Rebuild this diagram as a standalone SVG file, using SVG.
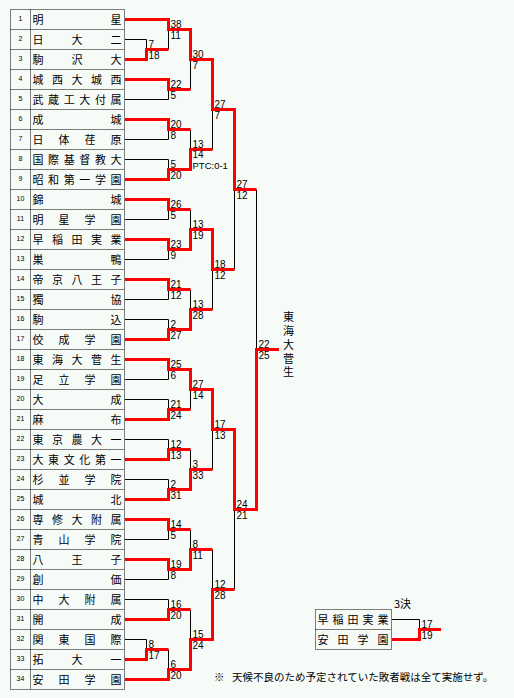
<svg xmlns="http://www.w3.org/2000/svg" width="514" height="698" viewBox="0 0 514 698">
<style>
.bg{fill:#f7fbf7}
.d{fill:none;stroke:#000;stroke-width:1;stroke-dasharray:1 1}
.b{fill:none;stroke:#000;stroke-width:1}
.r{fill:none;stroke:#f00;stroke-width:3;stroke-linejoin:miter;stroke-linecap:butt}
.n{font-family:"Noto Sans CJK JP","Noto Sans CJK SC",sans-serif;font-size:11px;fill:#000}
.f{font-family:"Noto Sans CJK JP","Noto Sans CJK SC",sans-serif;font-size:10.5px;fill:#000}
.k{font-family:"Liberation Sans",Arial,sans-serif;font-size:7px;fill:#000;text-anchor:middle}
.s{font-family:"Liberation Sans",Arial,sans-serif;font-size:10px;fill:#000}
.p{font-size:9.5px}
</style>
<rect class="bg" x="0" y="0" width="514" height="698"/>
<g id="table">
<rect class="d" x="10.5" y="9.5" width="114" height="680"/>
<path class="d" d="M30.5 9.5V689.5"/>
<path class="d" d="M10.5 29.5H124.5M10.5 49.5H124.5M10.5 69.5H124.5M10.5 89.5H124.5M10.5 109.5H124.5M10.5 129.5H124.5M10.5 149.5H124.5M10.5 169.5H124.5M10.5 189.5H124.5M10.5 209.5H124.5M10.5 229.5H124.5M10.5 249.5H124.5M10.5 269.5H124.5M10.5 289.5H124.5M10.5 309.5H124.5M10.5 329.5H124.5M10.5 349.5H124.5M10.5 369.5H124.5M10.5 389.5H124.5M10.5 409.5H124.5M10.5 429.5H124.5M10.5 449.5H124.5M10.5 469.5H124.5M10.5 489.5H124.5M10.5 509.5H124.5M10.5 529.5H124.5M10.5 549.5H124.5M10.5 569.5H124.5M10.5 589.5H124.5M10.5 609.5H124.5M10.5 629.5H124.5M10.5 649.5H124.5M10.5 669.5H124.5"/>
</g>
<g id="team1"><text class="k" x="20.5" y="20.5">1</text><text class="n" x="32.5 110.5" y="24">明星</text></g>
<g id="team2"><text class="k" x="20.5" y="40.5">2</text><text class="n" x="32.5 71.5 110.5" y="44">日大二</text></g>
<g id="team3"><text class="k" x="20.5" y="60.5">3</text><text class="n" x="32.5 71.5 110.5" y="64">駒沢大</text></g>
<g id="team4"><text class="k" x="20.5" y="80.5">4</text><text class="n" x="32.5 52 71.5 91 110.5" y="84">城西大城西</text></g>
<g id="team5"><text class="k" x="20.5" y="100.5">5</text><text class="n" x="32.5 48.1 63.7 79.3 94.9 110.5" y="104">武蔵工大付属</text></g>
<g id="team6"><text class="k" x="20.5" y="120.5">6</text><text class="n" x="32.5 110.5" y="124">成城</text></g>
<g id="team7"><text class="k" x="20.5" y="140.5">7</text><text class="n" x="32.5 58.5 84.5 110.5" y="144">日体荏原</text></g>
<g id="team8"><text class="k" x="20.5" y="160.5">8</text><text class="n" x="32.5 48.1 63.7 79.3 94.9 110.5" y="164">国際基督教大</text></g>
<g id="team9"><text class="k" x="20.5" y="180.5">9</text><text class="n" x="32.5 48.1 63.7 79.3 94.9 110.5" y="184">昭和第一学園</text></g>
<g id="team10"><text class="k" x="20.5" y="200.5">10</text><text class="n" x="32.5 110.5" y="204">錦城</text></g>
<g id="team11"><text class="k" x="20.5" y="220.5">11</text><text class="n" x="32.5 58.5 84.5 110.5" y="224">明星学園</text></g>
<g id="team12"><text class="k" x="20.5" y="240.5">12</text><text class="n" x="32.5 52 71.5 91 110.5" y="244">早稲田実業</text></g>
<g id="team13"><text class="k" x="20.5" y="260.5">13</text><text class="n" x="32.5 110.5" y="264">巣鴨</text></g>
<g id="team14"><text class="k" x="20.5" y="280.5">14</text><text class="n" x="32.5 52 71.5 91 110.5" y="284">帝京八王子</text></g>
<g id="team15"><text class="k" x="20.5" y="300.5">15</text><text class="n" x="32.5 110.5" y="304">獨協</text></g>
<g id="team16"><text class="k" x="20.5" y="320.5">16</text><text class="n" x="32.5 110.5" y="324">駒込</text></g>
<g id="team17"><text class="k" x="20.5" y="340.5">17</text><text class="n" x="32.5 58.5 84.5 110.5" y="344">佼成学園</text></g>
<g id="team18"><text class="k" x="20.5" y="360.5">18</text><text class="n" x="32.5 52 71.5 91 110.5" y="364">東海大菅生</text></g>
<g id="team19"><text class="k" x="20.5" y="380.5">19</text><text class="n" x="32.5 58.5 84.5 110.5" y="384">足立学園</text></g>
<g id="team20"><text class="k" x="20.5" y="400.5">20</text><text class="n" x="32.5 110.5" y="404">大成</text></g>
<g id="team21"><text class="k" x="20.5" y="420.5">21</text><text class="n" x="32.5 110.5" y="424">麻布</text></g>
<g id="team22"><text class="k" x="20.5" y="440.5">22</text><text class="n" x="32.5 52 71.5 91 110.5" y="444">東京農大一</text></g>
<g id="team23"><text class="k" x="20.5" y="460.5">23</text><text class="n" x="32.5 48.1 63.7 79.3 94.9 110.5" y="464">大東文化第一</text></g>
<g id="team24"><text class="k" x="20.5" y="480.5">24</text><text class="n" x="32.5 58.5 84.5 110.5" y="484">杉並学院</text></g>
<g id="team25"><text class="k" x="20.5" y="500.5">25</text><text class="n" x="32.5 110.5" y="504">城北</text></g>
<g id="team26"><text class="k" x="20.5" y="520.5">26</text><text class="n" x="32.5 52 71.5 91 110.5" y="524">専修大附属</text></g>
<g id="team27"><text class="k" x="20.5" y="540.5">27</text><text class="n" x="32.5 58.5 84.5 110.5" y="544">青山学院</text></g>
<g id="team28"><text class="k" x="20.5" y="560.5">28</text><text class="n" x="32.5 71.5 110.5" y="564">八王子</text></g>
<g id="team29"><text class="k" x="20.5" y="580.5">29</text><text class="n" x="32.5 110.5" y="584">創価</text></g>
<g id="team30"><text class="k" x="20.5" y="600.5">30</text><text class="n" x="32.5 58.5 84.5 110.5" y="604">中大附属</text></g>
<g id="team31"><text class="k" x="20.5" y="620.5">31</text><text class="n" x="32.5 110.5" y="624">開成</text></g>
<g id="team32"><text class="k" x="20.5" y="640.5">32</text><text class="n" x="32.5 58.5 84.5 110.5" y="644">関東国際</text></g>
<g id="team33"><text class="k" x="20.5" y="660.5">33</text><text class="n" x="32.5 71.5 110.5" y="664">拓大一</text></g>
<g id="team34"><text class="k" x="20.5" y="680.5">34</text><text class="n" x="32.5 58.5 84.5 110.5" y="684">安田学園</text></g>
<g id="third-place">
<rect class="d" x="315.5" y="609.5" width="76" height="40"/>
<path class="d" d="M315.5 629.5H391.5"/>
<text class="n" x="317.5 332.5 347.5 362.5 377.5" y="623.5">早稲田実業</text>
<text class="n" x="317.5 337.5 357.5 377.5" y="643.5">安田学園</text>
<text class="n" x="394" y="608">3決</text>
</g>
<g id="champion">
<text class="n" text-anchor="middle" x="288.5 288.5 288.5 288.5 288.5" y="321 335 349 363 376">東海大菅生</text>
</g>
<g id="connectors">
<path class="b" d="M125 39.5H146.5V49.5M125 99.5H168.5V89.5M125 139.5H168.5V129.5M125 159.5H168.5V169.5M125 219.5H168.5V209.5M125 259.5H168.5V249.5M125 299.5H168.5V289.5M125 319.5H168.5V329.5M125 379.5H168.5V369.5M125 399.5H168.5V409.5M125 439.5H168.5V449.5M125 479.5H168.5V489.5M125 539.5H168.5V529.5M125 579.5H168.5V569.5M125 599.5H168.5V609.5M125 639.5H146.5V649.5"/>
<path class="b" d="M168.5 29.5V49.5M190.5 59.5V89.5M190.5 129.5V149.5M212.5 109.5V149.5M190.5 209.5V229.5M190.5 289.5V309.5M212.5 269.5V309.5M234.5 189.5V269.5M256.5 189.5V349.5M190.5 389.5V409.5M190.5 449.5V469.5M212.5 429.5V469.5M190.5 529.5V549.5M168.5 649.5V669.5M190.5 609.5V639.5M212.5 549.5V589.5M234.5 509.5V589.5M392 619.5H419.5V629.5"/>
<path class="r" d="M125 19.5H168.5V29.5H190.5V59.5H212.5V109.5H234.5V189.5H256.5"/>
<path class="r" d="M125 59.5H146.5V49.5H168.5"/>
<path class="r" d="M125 79.5H168.5V89.5H190.5"/>
<path class="r" d="M125 119.5H168.5V129.5H190.5"/>
<path class="r" d="M125 179.5H168.5V169.5H190.5V149.5H212.5"/>
<path class="r" d="M125 199.5H168.5V209.5H190.5"/>
<path class="r" d="M125 239.5H168.5V249.5H190.5V229.5H212.5V269.5H234.5"/>
<path class="r" d="M125 279.5H168.5V289.5H190.5"/>
<path class="r" d="M125 339.5H168.5V329.5H190.5V309.5H212.5"/>
<path class="r" d="M125 359.5H168.5V369.5H190.5V389.5H212.5V429.5H234.5V509.5H256.5V349.5H279"/>
<path class="r" d="M125 419.5H168.5V409.5H190.5"/>
<path class="r" d="M125 459.5H168.5V449.5H190.5"/>
<path class="r" d="M125 499.5H168.5V489.5H190.5V469.5H212.5"/>
<path class="r" d="M125 519.5H168.5V529.5H190.5"/>
<path class="r" d="M125 559.5H168.5V569.5H190.5V549.5H212.5"/>
<path class="r" d="M125 619.5H168.5V609.5H190.5"/>
<path class="r" d="M125 659.5H146.5V649.5H168.5"/>
<path class="r" d="M125 679.5H168.5V669.5H190.5V639.5H212.5V589.5H234.5"/>
<path class="r" d="M392 639.5H419.5V629.5H441"/>
</g>
<g id="scores" class="s">
<text x="148.5" y="48">7</text><text x="148.5" y="58.5">18</text>
<text x="170.5" y="28">38</text><text x="170.5" y="38.5">11</text>
<text x="170.5" y="88">22</text><text x="170.5" y="98.5">5</text>
<text x="192.5" y="58">30</text><text x="192.5" y="68.5">7</text>
<text x="170.5" y="128">20</text><text x="170.5" y="138.5">8</text>
<text x="170.5" y="168">5</text><text x="170.5" y="178.5">20</text>
<text x="192.5" y="148">13</text><text x="192.5" y="158">14</text><text class="p" x="192.5" y="168.5">PTC:0-1</text>
<text x="214.5" y="108">27</text><text x="214.5" y="118.5">7</text>
<text x="170.5" y="208">26</text><text x="170.5" y="218.5">5</text>
<text x="170.5" y="248">23</text><text x="170.5" y="258.5">9</text>
<text x="192.5" y="228">13</text><text x="192.5" y="238.5">19</text>
<text x="170.5" y="288">21</text><text x="170.5" y="298.5">12</text>
<text x="170.5" y="328">2</text><text x="170.5" y="338.5">27</text>
<text x="192.5" y="308">13</text><text x="192.5" y="318.5">28</text>
<text x="214.5" y="268">18</text><text x="214.5" y="278.5">12</text>
<text x="236.5" y="188">27</text><text x="236.5" y="198.5">12</text>
<text x="258.5" y="348">22</text><text x="258.5" y="358.5">25</text>
<text x="170.5" y="368">25</text><text x="170.5" y="378.5">6</text>
<text x="170.5" y="408">21</text><text x="170.5" y="418.5">24</text>
<text x="192.5" y="388">27</text><text x="192.5" y="398.5">14</text>
<text x="170.5" y="448">12</text><text x="170.5" y="458.5">13</text>
<text x="170.5" y="488">2</text><text x="170.5" y="498.5">31</text>
<text x="192.5" y="468">3</text><text x="192.5" y="478.5">33</text>
<text x="214.5" y="428">17</text><text x="214.5" y="438.5">13</text>
<text x="236.5" y="508">24</text><text x="236.5" y="518.5">21</text>
<text x="170.5" y="528">14</text><text x="170.5" y="538.5">5</text>
<text x="170.5" y="568">19</text><text x="170.5" y="578.5">8</text>
<text x="192.5" y="548">8</text><text x="192.5" y="558.5">11</text>
<text x="170.5" y="608">16</text><text x="170.5" y="618.5">20</text>
<text x="148.5" y="648">8</text><text x="148.5" y="658.5">17</text>
<text x="170.5" y="668">6</text><text x="170.5" y="678.5">20</text>
<text x="192.5" y="638">15</text><text x="192.5" y="648.5">24</text>
<text x="214.5" y="588">12</text><text x="214.5" y="598.5">28</text>
<text x="421.5" y="628">17</text><text x="421.5" y="638.5">19</text>
</g>
<g id="footnote">
<text class="f" x="214" y="681">※<tspan x="232">天候不良のため予定されていた敗者戦は全て実施せず。</tspan></text>
</g>
</svg>
